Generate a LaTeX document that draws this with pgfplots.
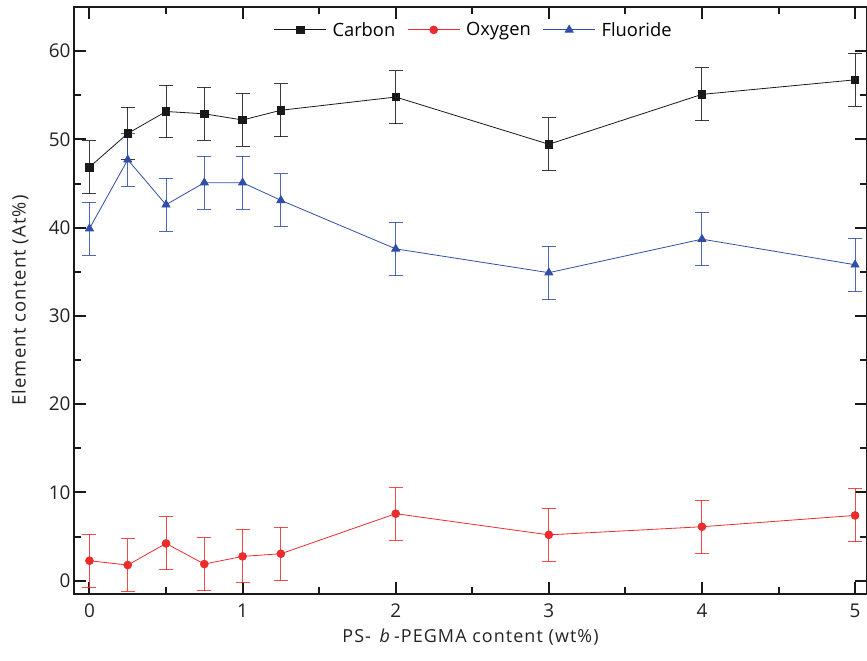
\documentclass[border=0pt]{standalone}
\usepackage{pgfplots}
\pgfplotsset{compat=1.18}
\usepackage{fontspec}
\setmainfont{Open Sans}
\newfontfamily\labfont[LetterSpace=6]{Open Sans}
\definecolor{cblack}{RGB}{25,25,25}
\definecolor{cred}{RGB}{236,44,44}
\definecolor{cblue}{RGB}{48,78,168}
\definecolor{ctext}{RGB}{35,35,35}
\begin{document}
\begin{tikzpicture}
\begin{axis}[
  scale only axis,
  width=793bp, height=587bp,
  xmin=-0.101, xmax=5.078,
  ymin=-1.5, ymax=65,
  xtick={0,1,2,3,4,5},
  ytick={0,10,20,30,40,50,60},
  minor x tick num=1,
  minor y tick num=1,
  tick align=inside,
  major tick length=12bp,
  minor tick length=7bp,
  axis line style={line width=2.4bp, cblack},
  every tick/.style={line width=2bp, cblack},
  tick label style={font=\fontsize{19}{22}\selectfont, text=ctext},
  /pgf/number format/assume math mode=true,
  xticklabel style={yshift=-6bp},
  yticklabel style={xshift=0bp},
  xlabel={PS-\ \,\textit{b}\,-PEGMA content (wt\%)},
  ylabel={Element content (At\%)},
  label style={font=\labfont\fontsize{18.5}{21}\selectfont, text=ctext},
  xlabel style={font=\labfont\fontsize{18}{21}\selectfont, at={(axis description cs:0.5,-0.0733)}, anchor=center},
  ylabel style={at={(axis description cs:-0.0681,0.5)}, anchor=center},
  legend style={at={(0.504,0.961)}, anchor=center, draw=none, fill=none,
    legend columns=3, font=\fontsize{18.4}{21}\selectfont,
    /tikz/every even column/.append style={column sep=10bp}},
  legend cell align=left,
  legend image code/.code={
    \draw[mark repeat=2,mark phase=2,#1] plot coordinates {(0bp,0bp) (26bp,0bp) (52bp,0bp)};
    \path (56bp,0bp);
  },
  error bars/error bar style={line width=1bp, opacity=0.85},
  error bars/error mark options={rotate=90, mark size=7bp, line width=1bp, opacity=0.85},
]
\addplot+[cblack, line width=0.8bp, mark=square*, mark size=3.8bp,
  mark options={fill=cblack, draw=cblack, solid},
  error bars/.cd, y dir=both, y explicit]
coordinates {
(0,46.86) +- (0,3)
(0.25,50.67) +- (0,3)
(0.5,53.16) +- (0,3)
(0.75,52.9) +- (0,3)
(1,52.2) +- (0,3)
(1.25,53.3) +- (0,3)
(2,54.8) +- (0,3)
(3,49.45) +- (0,3)
(4,55.1) +- (0,3)
(5,56.75) +- (0,3)
};
\addlegendentry{Carbon}
\addplot+[cred, line width=0.8bp, mark=*, mark size=3.9bp,
  mark options={fill=cred, draw=cred, solid},
  error bars/.cd, y dir=both, y explicit]
coordinates {
(0,2.27) +- (0,3)
(0.25,1.78) +- (0,3)
(0.5,4.23) +- (0,3)
(0.75,1.89) +- (0,3)
(1,2.76) +- (0,3)
(1.25,3.06) +- (0,3)
(2,7.6) +- (0,3)
(3,5.2) +- (0,3)
(4,6.12) +- (0,3)
(5,7.4) +- (0,3)
};
\addlegendentry{Oxygen}
\addplot+[cblue, line width=0.8bp, mark=triangle*, mark size=4.6bp,
  mark options={fill=cblue, draw=cblue, solid},
  error bars/.cd, y dir=both, y explicit]
coordinates {
(0,39.9) +- (0,3)
(0.25,47.7) +- (0,3)
(0.5,42.6) +- (0,3)
(0.75,45.1) +- (0,3)
(1,45.1) +- (0,3)
(1.25,43.1) +- (0,3)
(2,37.6) +- (0,3)
(3,34.9) +- (0,3)
(4,38.7) +- (0,3)
(5,35.8) +- (0,3)
};
\addlegendentry{Fluoride}
\end{axis}
\pgfresetboundingbox
\useasboundingbox ([shift={(-74bp,-67bp)}]current axis.south west) rectangle ([shift={(0bp,7bp)}]current axis.north east);
\end{tikzpicture}
\end{document}
